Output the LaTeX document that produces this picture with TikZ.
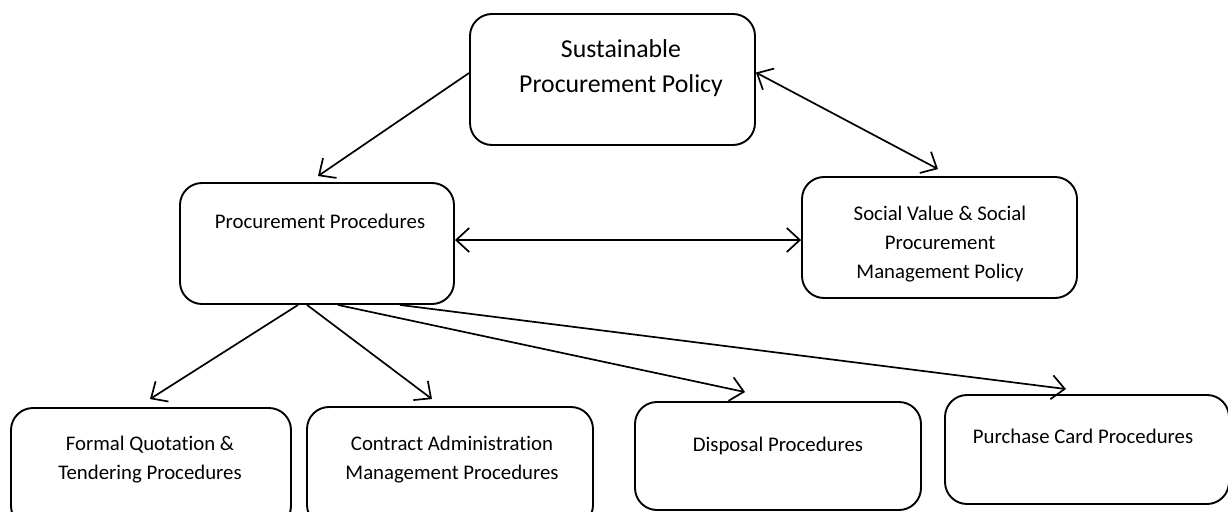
\documentclass[tikz,border=0pt]{standalone}
\usepackage{fontspec}
\setmainfont{Carlito}[Ligatures={NoCommon}]
\usetikzlibrary{arrows.meta,positioning}

\tikzset{
  box/.style={draw,line width=1.9pt,rounded corners=22pt},
  boxtext/.style={align=center,font=\fontsize{20.8}{29}\selectfont},
  link/.style={line width=1.7pt,-{Straight Barb[length=13pt,width=24pt,line width=1.7pt]}},
  duallink/.style={line width=1.7pt,{Straight Barb[length=13pt,width=24pt,line width=1.7pt]}-{Straight Barb[length=13pt,width=24pt,line width=1.7pt]}}
}

\begin{document}
\begin{tikzpicture}[x=1pt,y=-1pt]
\useasboundingbox (0,0) rectangle (1228,511);
\clip (0,0) rectangle (1228,511);
% boxes
\node[box,minimum width=285pt,minimum height=131pt] (spp) at (612.5,79.5) {};
\node[box,minimum width=274pt,minimum height=121pt] (proc) at (317,243.5) {};
\node[box,minimum width=275pt,minimum height=121pt] (social) at (939.5,237.5) {};
\node[box,minimum width=280pt,minimum height=120pt] (formal) at (151,468) {};
\node[box,minimum width=286pt,minimum height=120pt] (contract) at (450,467) {};
\node[box,minimum width=286pt,minimum height=108pt] (disposal) at (778,456) {};
\node[box,minimum width=284pt,minimum height=109pt] (purchase) at (1087,449.5) {};
% texts
\node[boxtext,font=\fontsize{25.8}{35}\selectfont] (spptxt) at (621,68) {Sustainable\\Procurement Policy};
\node[boxtext] (proctxt) at (320,221) {Procurement Procedures};
\node[boxtext] (socialtxt) at (940,244) {Social Value \& Social\\Procurement\\Management Policy};
\node[boxtext] (formaltxt) at (150,460) {Formal Quotation \&\\Tendering Procedures};
\node[boxtext] (contracttxt) at (452,460) {Contract Administration\\Management Procedures};
\node[boxtext] (disposaltxt) at (778,446) {Disposal Procedures};
\node[boxtext] (purchasetxt) at (1083,436) {Purchase Card Procedures};
% arrows
\draw[link] ([yshift=6.5pt]spp.west) -- ([xshift=1pt,yshift=6pt]proc.north);
\draw[duallink] ([yshift=7pt]spp.east) -- ([xshift=-1.5pt,yshift=7pt]social.north);
\draw[duallink] ([yshift=3.5pt]proc.east) -- ([yshift=3.5pt]proc.east -| social.west);
\draw[link] ([xshift=-19pt]proc.south) -- ([xshift=-1pt,yshift=8pt]formal.north);
\draw[link] ([xshift=-10pt]proc.south) -- ([xshift=-18pt,yshift=7pt]contract.north);
\draw[link] ([xshift=21pt]proc.south) -- ([xshift=-33pt,yshift=9pt]disposal.north);
\draw[link] ([xshift=83pt]proc.south) -- ([xshift=-21pt,yshift=5pt]purchase.north);
\end{tikzpicture}
\end{document}
